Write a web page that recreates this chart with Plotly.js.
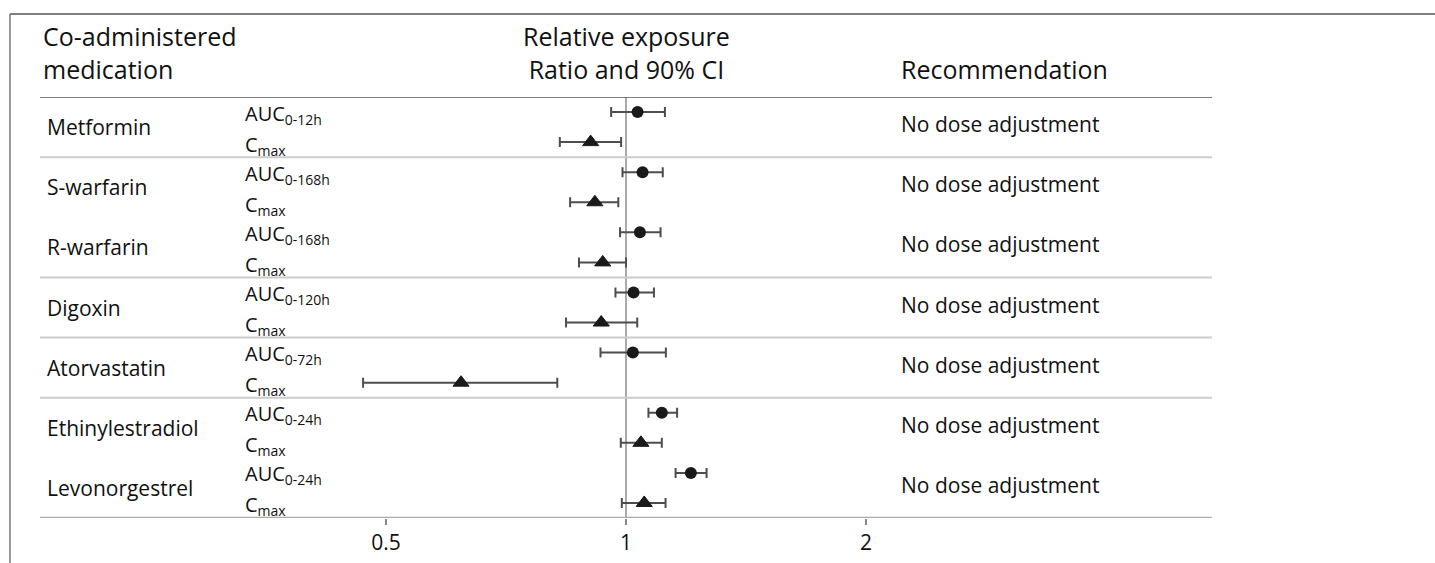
<!DOCTYPE html>
<html>
<head>
<meta charset="utf-8">
<script src="https://cdn.plot.ly/plotly-3.0.1.min.js"></script>
<style>html,body{margin:0;padding:0;background:#fff;}#chart{width:1435px;height:563px;}</style>
</head>
<body>
<div id="chart"></div>
<script>
// ---- data ----
const drugs = ['Metformin','S-warfarin','R-warfarin','Digoxin','Atorvastatin','Ethinylestradiol','Levonorgestrel'];
const aucSubs = ['0-12h','0-168h','0-168h','0-120h','0-72h','0-24h','0-24h'];
const aucRatio = [1.034, 1.049, 1.041, 1.022, 1.020, 1.109, 1.206];
const aucLo    = [0.958, 0.990, 0.983, 0.970, 0.929, 1.067, 1.154];
const aucHi    = [1.119, 1.112, 1.105, 1.084, 1.122, 1.159, 1.262];
const cmaxRatio = [0.903, 0.914, 0.935, 0.931, 0.621, 1.044, 1.054];
const cmaxLo    = [0.826, 0.851, 0.873, 0.841, 0.468, 0.985, 0.988];
const cmaxHi    = [0.986, 0.978, 1.000, 1.033, 0.820, 1.109, 1.121];
const recommendations = ['No dose adjustment','No dose adjustment','No dose adjustment','No dose adjustment','No dose adjustment','No dose adjustment','No dose adjustment'];
const groupEndsAfter = ['Metformin','R-warfarin','Digoxin','Atorvastatin']; // light separators
const tickVals = [0.5, 1, 2];
const tickText = ['0.5','1','2'];

// ---- build ----
const FONT = 'Open Sans, Noto Sans, sans-serif';
const yAuc = drugs.map((d,i)=>2*i);
const yCmax = drugs.map((d,i)=>2*i+1);
const nRows = drugs.length*2;

const traces = [
  { // reference line at ratio 1
    x:[1,1], y:[-0.5, nRows-0.5], mode:'lines', type:'scatter',
    line:{color:'#555', width:1}, hoverinfo:'skip', showlegend:false
  },
  {
    x: aucRatio, y: yAuc, type:'scatter', mode:'markers', showlegend:false,
    marker:{symbol:'circle', size:12, color:'#1a1a1a'},
    error_x:{type:'data', symmetric:false,
      array: aucRatio.map((v,i)=>aucHi[i]-v),
      arrayminus: aucRatio.map((v,i)=>v-aucLo[i]),
      color:'#4d4d4d', thickness:2, width:5}
  },
  {
    x: cmaxRatio, y: yCmax, type:'scatter', mode:'markers', showlegend:false,
    marker:{symbol:'triangle-up', size:14, color:'#1a1a1a', line:{color:'#1a1a1a', width:1}},
    error_x:{type:'data', symmetric:false,
      array: cmaxRatio.map((v,i)=>cmaxHi[i]-v),
      arrayminus: cmaxRatio.map((v,i)=>v-cmaxLo[i]),
      color:'#4d4d4d', thickness:2, width:5}
  }
];

const shapes = [];
// header separator
shapes.push({type:'line', xref:'paper', yref:'y', x0:0, x1:1, y0:-0.5, y1:-0.5, line:{color:'#555', width:1.5}});
// group separators
groupEndsAfter.forEach(name=>{
  const i = drugs.indexOf(name);
  const yy = 2*i+1.5;
  shapes.push({type:'line', xref:'paper', yref:'y', x0:0, x1:1, y0:yy, y1:yy, line:{color:'#cccccc', width:2}});
});
// bottom axis line
shapes.push({type:'line', xref:'paper', yref:'y', x0:0, x1:1, y0:nRows-0.5, y1:nRows-0.5, line:{color:'#aaaaaa', width:2.5}});
// frame (top + left)
shapes.push({type:'line', xref:'paper', yref:'paper', x0:-0.0256, x1:1.2, y0:1.197, y1:1.197, line:{color:'#555', width:1.5}});
shapes.push({type:'line', xref:'paper', yref:'paper', x0:-0.0256, x1:-0.0256, y0:1.197, y1:-0.12, line:{color:'#777', width:1.5}});

const annotations = [];
const hdr = {family:FONT, size:25, color:'#111'};
const body = {family:FONT, size:21, color:'#111'};
const lab = {family:FONT, size:20, color:'#111'};
annotations.push({xref:'paper', yref:'paper', x:0.0009, y:1.106, xanchor:'left', yanchor:'middle', align:'left', text:'Co-administered<br>medication', showarrow:false, font:hdr});
annotations.push({xref:'x', yref:'paper', x:0, y:1.106, xanchor:'center', yanchor:'middle', align:'center', text:'Relative exposure<br>Ratio and 90% CI', showarrow:false, font:hdr});
annotations.push({xref:'paper', yref:'paper', x:0.733, y:1.066, xanchor:'left', yanchor:'middle', text:'Recommendation', showarrow:false, font:hdr});

drugs.forEach((d,i)=>{
  annotations.push({xref:'paper', yref:'y', x:0.004, y:2*i+0.5, xanchor:'left', yanchor:'middle', text:d, showarrow:false, font:body});
  annotations.push({xref:'paper', yref:'y', x:0.1732, y:2*i, yshift:-2, xanchor:'left', yanchor:'middle', text:'AUC<sub>'+aucSubs[i]+'</sub>', showarrow:false, font:lab});
  annotations.push({xref:'paper', yref:'y', x:0.1732, y:2*i+1, yshift:-3, xanchor:'left', yanchor:'middle', text:'C<sub>max</sub>', showarrow:false, font:lab});
  annotations.push({xref:'paper', yref:'y', x:0.733, y:2*i+0.5, yshift:3, xanchor:'left', yanchor:'middle', text:recommendations[i], showarrow:false, font:body});
});

const layout = {
  width:1435, height:563,
  margin:{l:40, r:223, t:97, b:45, pad:0},
  paper_bgcolor:'#fff', plot_bgcolor:'#fff',
  showlegend:false,
  xaxis:{type:'log', range:[-0.735, 0.735], tickvals:tickVals, ticktext:tickText,
    ticks:'outside', ticklen:6, tickwidth:1.5, tickcolor:'#888',
    showgrid:false, zeroline:false, showline:false,
    tickfont:{family:FONT, size:21, color:'#111'}, fixedrange:true},
  yaxis:{range:[nRows-0.5, -0.5], visible:false, showgrid:false, zeroline:false, fixedrange:true},
  shapes:shapes, annotations:annotations
};

Plotly.newPlot('chart', traces, layout, {displayModeBar:false, staticPlot:true});
</script>
</body>
</html>
